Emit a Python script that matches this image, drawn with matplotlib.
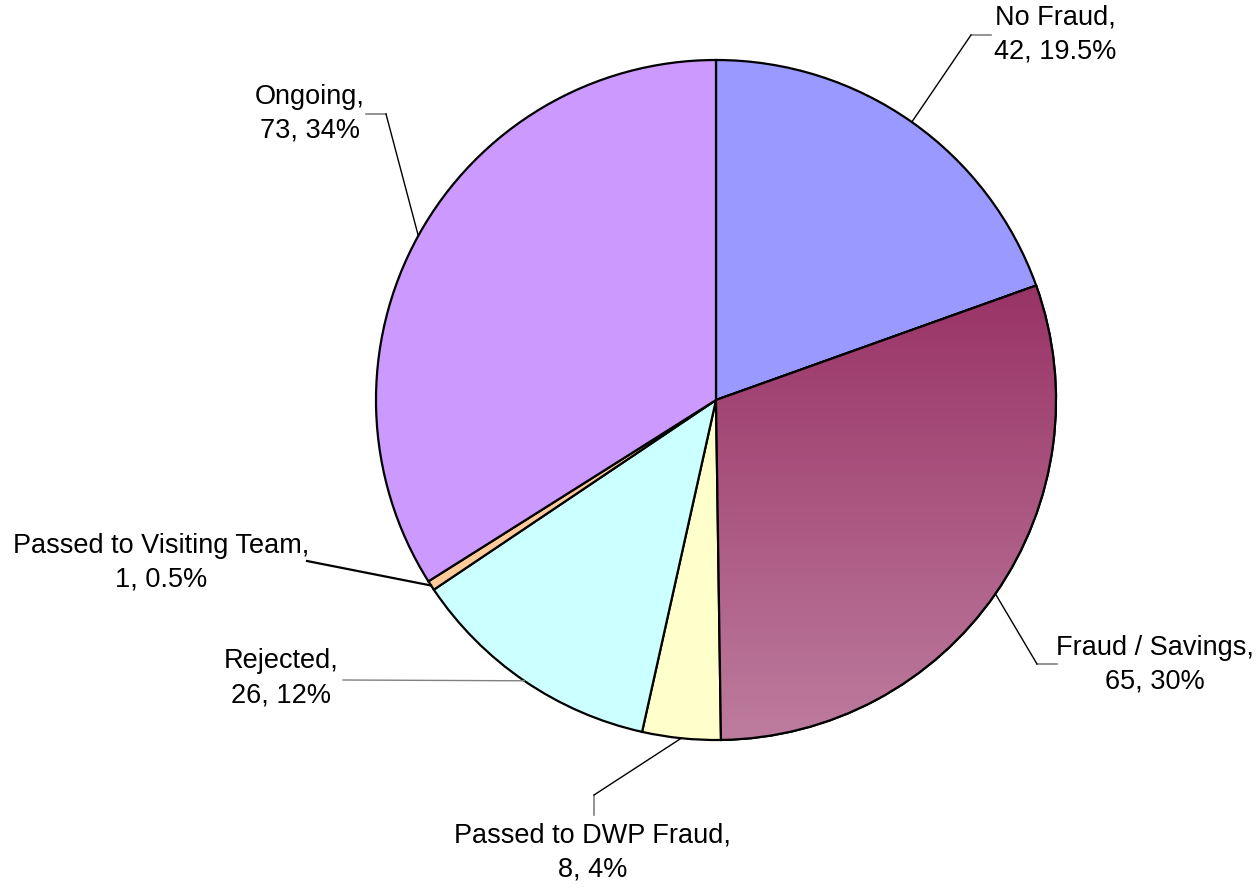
import numpy as np
import matplotlib
matplotlib.use("Agg")
import matplotlib.pyplot as plt
from matplotlib.colors import to_rgb

plt.rcParams['font.family'] = ['Liberation Sans', 'DejaVu Sans']

# data
categories = ['No Fraud', 'Fraud / Savings', 'Passed to DWP Fraud', 'Rejected',
              'Passed to Visiting Team', 'Ongoing']
counts = [42, 65, 8, 26, 1, 73]
pct_labels = ['19.5%', '30%', '4%', '12%', '0.5%', '34%']
colors = ['#9999FF', '#993366', '#FFFFCC', '#CCFFFF', '#FFCC99', '#CC99FF']

W, H = 1256, 888
fig = plt.figure(figsize=(W / 100, H / 100), dpi=100)
ax = fig.add_axes([0, 0, 1, 1])

cx, cy, r = 716, H - 400, 340
wedges, _ = ax.pie(counts, colors=colors, startangle=90, counterclock=False,
                   center=(cx, cy), radius=r, frame=True,
                   wedgeprops=dict(edgecolor='black', linewidth=1.6))
ax.set_xlim(0, W)
ax.set_ylim(0, H)
ax.set_aspect('equal')
ax.axis('off')

# gradient fill on Fraud / Savings
fw = wedges[1]
top = np.array(to_rgb('#993366'))
bot = np.array(to_rgb('#BD7C9E'))
y_top, y_bot = H - 285, H - 740
t = np.linspace(0, 1, 256)[:, None]
grad = (top * (1 - t) + bot * t)[:, None, :]
im = ax.imshow(grad, extent=(cx - r, cx + r, y_bot, y_top), aspect='auto',
               interpolation='bilinear', zorder=fw.get_zorder() + 0.1)
im.set_clip_path(fw)
edge = plt.matplotlib.patches.Wedge((cx, cy), r, fw.theta1, fw.theta2,
                                    facecolor='none', edgecolor='black',
                                    linewidth=1.6, zorder=fw.get_zorder() + 0.2)
ax.add_patch(edge)

# label layout: text centre, elbow point(s) of the leader line
layout = [
    dict(text=(1055, 35), elbow=[(991, 35), (971, 35)]),
    dict(text=(1155, 665), elbow=[(1057, 664), (1037, 664)]),
    dict(text=(593, 852), elbow=[(594, 815), (594, 795)]),
    dict(text=(281, 678), elbow=[(343, 680)]),
    dict(text=(161, 563), elbow=[(307, 561)]),
    dict(text=(310, 114), elbow=[(366, 114), (386, 114)]),
]

for w, name, n, p, lay in zip(wedges, categories, counts, pct_labels, layout):
    ang = np.deg2rad((w.theta1 + w.theta2) / 2)
    ex, ey = cx + r * np.cos(ang), cy + r * np.sin(ang)
    pts = [(x, H - y) for x, y in lay['elbow']]
    if len(pts) == 2:
        ax.plot([pts[0][0], pts[1][0]], [pts[0][1], pts[1][1]],
                color='#808080', lw=1.2, zorder=1)
        ax.plot([pts[1][0], ex], [pts[1][1], ey], color='black', lw=1.0, zorder=1)
    else:
        lw = 1.6 if name == 'Passed to Visiting Team' else 1.0
        c = 'black' if name == 'Passed to Visiting Team' else '#808080'
        ax.plot([pts[0][0], ex], [pts[0][1], ey], color=c, lw=lw, zorder=1)
    tx, ty = lay['text']
    ax.text(tx, H - ty, f"{name},\n{n}, {p}", ha='center', va='center',
            fontsize=19.5, linespacing=1.4)

fig.savefig('out.png', dpi=100, facecolor='white')
